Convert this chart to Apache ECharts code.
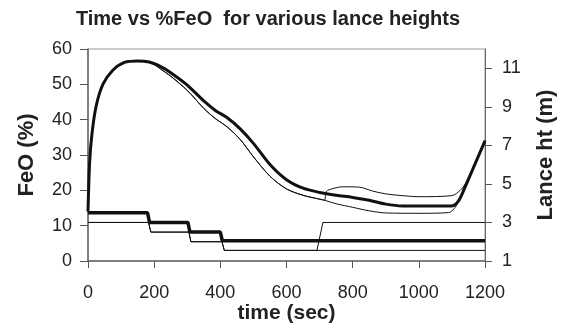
<!DOCTYPE html>
<html>
<head>
<meta charset="utf-8">
<script src="https://cdn.jsdelivr.net/npm/echarts@6/dist/echarts.min.js"></script>
<style>
html,body{margin:0;padding:0;background:#fff;}
#chart{width:567px;height:326px;}
</style>
</head>
<body>
<div id="chart"></div>
<script>
// FeO (%) - thick line
var feoThickTime = [0, 5, 12, 25, 45, 75, 110, 150, 185, 220, 250, 300, 350, 385, 420, 460, 500, 550, 600, 650, 700, 750, 800, 850, 900, 950, 1100, 1120, 1140, 1170, 1200];
var feoThick     = [14, 28, 36, 44, 50, 54, 56.2, 56.6, 56.3, 55, 53.3, 49.8, 45.3, 42.6, 40.6, 37.4, 33.3, 27.3, 23, 20.6, 19.4, 18.6, 18, 17.2, 16.1, 15.6, 15.6, 17, 21, 27.5, 34];
// FeO (%) - thin line, lance raised at ~700 s
var feoThinATime = [0, 5, 12, 25, 45, 75, 110, 150, 188, 220, 250, 300, 350, 385, 420, 460, 500, 550, 600, 650, 700, 715, 720, 740, 770, 820, 860, 900, 950, 1000, 1100, 1125, 1140, 1170, 1200];
var feoThinA     = [14, 28, 36, 44, 50, 54, 56.2, 56.6, 56.3, 54.3, 52.3, 48.3, 43.2, 40.3, 38, 34.4, 29.5, 24, 20.4, 18.6, 17.5, 17.2, 19.6, 20.5, 21, 20.9, 19.8, 19, 18.5, 18.2, 18.5, 20, 21.8, 27.8, 34.2];
// FeO (%) - thin line, lance kept low
var feoThinBTime = [0, 5, 12, 25, 45, 75, 110, 150, 188, 220, 250, 300, 350, 385, 420, 460, 500, 550, 600, 650, 700, 715, 750, 800, 850, 900, 1000, 1090, 1110, 1125, 1140, 1170, 1200];
var feoThinB     = [14, 28, 36, 44, 50, 54, 56.2, 56.6, 56.3, 54.3, 52.3, 48.3, 43.2, 40.3, 38, 34.4, 29.5, 24, 20.4, 18.6, 17.5, 17.2, 16.2, 15.2, 14.2, 13.6, 13.5, 13.7, 15.2, 18, 21, 27.5, 34];

// Lance height (m)
var lanceThickTime = [0, 180, 186, 302, 308, 400, 406, 1200];
var lanceThick     = [3.5, 3.5, 3.0, 3.0, 2.5, 2.5, 2.05, 2.05];
var lanceThinATime = [0, 183, 190, 305, 311, 405, 412, 692, 710, 1200];
var lanceThinA     = [3.0, 3.0, 2.5, 2.5, 2.0, 2.0, 1.55, 1.55, 3.0, 3.0];
var lanceThinBTime = [0, 183, 190, 305, 311, 405, 412, 1200];
var lanceThinB     = [3.0, 3.0, 2.5, 2.5, 2.0, 2.0, 1.55, 1.55];

function zip(t, v){
	var out = [];
	for(var i=0;i<t.length;i++){
		out.push([t[i], v[i]]);
	}
	return out;
}

var font = "'Liberation Sans', Arial, sans-serif";
var chart = echarts.init(document.getElementById('chart'));

function feoLine(data, width){
	return {
		type:'line', yAxisIndex:0, data:data, showSymbol:false, symbol:'none',
		smooth:0.3, animation:false,
		lineStyle:{color:'#111', width:width}
	};
}
function lanceLine(data, width){
	return {
		type:'line', yAxisIndex:1, data:data, showSymbol:false, symbol:'none',
		animation:false,
		lineStyle:{color:'#111', width:width}
	};
}

var option = {
	backgroundColor:'#fff',
	title:{
		text:'Time vs %FeO  for various lance heights',
		left:263, top:4, textAlign:'center',
		textStyle:{fontFamily:font, fontSize:20, fontWeight:'bold', color:'#222'}
	},
	grid:{left:88, right:82, top:49, bottom:65, show:true, borderColor:'#999', borderWidth:1,
		outerBoundsMode:'none', containLabel:false},
	xAxis:{
		type:'value', min:0, max:1200, interval:200,
		name:'time (sec)', nameLocation:'middle', nameGap:42, nameMoveOverlap:false,
		nameTextStyle:{fontFamily:font, fontSize:21, fontWeight:'bold', color:'#222'},
		axisLine:{lineStyle:{color:'#666', width:1.5}},
		axisTick:{show:true, length:7, lineStyle:{color:'#555'}},
		axisLabel:{fontFamily:font, fontSize:18, color:'#222', margin:23,
			formatter:function(v){ return String(v); }},
		splitLine:{show:false}
	},
	yAxis:[{
		type:'value', min:0, max:60, interval:10, position:'left',
		name:'FeO (%)', nameLocation:'middle', nameGap:50, nameRotate:90, nameMoveOverlap:false,
		nameTextStyle:{fontFamily:font, fontSize:22, fontWeight:'bold', color:'#222'},
		axisLine:{show:true, lineStyle:{color:'#666', width:1.5}},
		axisTick:{show:true, length:8, lineStyle:{color:'#555'}},
		axisLabel:{fontFamily:font, fontSize:18, color:'#222', margin:16},
		splitLine:{show:false}
	},{
		type:'value', min:1, max:12, interval:2, position:'right',
		name:'Lance ht (m)', nameLocation:'middle', nameGap:50, nameRotate:90, nameMoveOverlap:false,
		nameTextStyle:{fontFamily:font, fontSize:22, fontWeight:'bold', color:'#222'},
		axisLine:{show:true, lineStyle:{color:'#666', width:1}},
		axisTick:{show:true, length:7, lineStyle:{color:'#555'}},
		axisLabel:{fontFamily:font, fontSize:18, color:'#222', margin:17, showMaxLabel:false,
			formatter:function(v){ return v===12 ? '' : String(v); }},
		splitLine:{show:false}
	}],
	series:[
		feoLine(zip(feoThinATime, feoThinA), 1),
		feoLine(zip(feoThinBTime, feoThinB), 1),
		feoLine(zip(feoThickTime, feoThick), 3),
		lanceLine(zip(lanceThinATime, lanceThinA), 1),
		lanceLine(zip(lanceThinBTime, lanceThinB), 1),
		lanceLine(zip(lanceThickTime, lanceThick), 3.5)
	]
};
chart.setOption(option);
</script>
</body>
</html>
